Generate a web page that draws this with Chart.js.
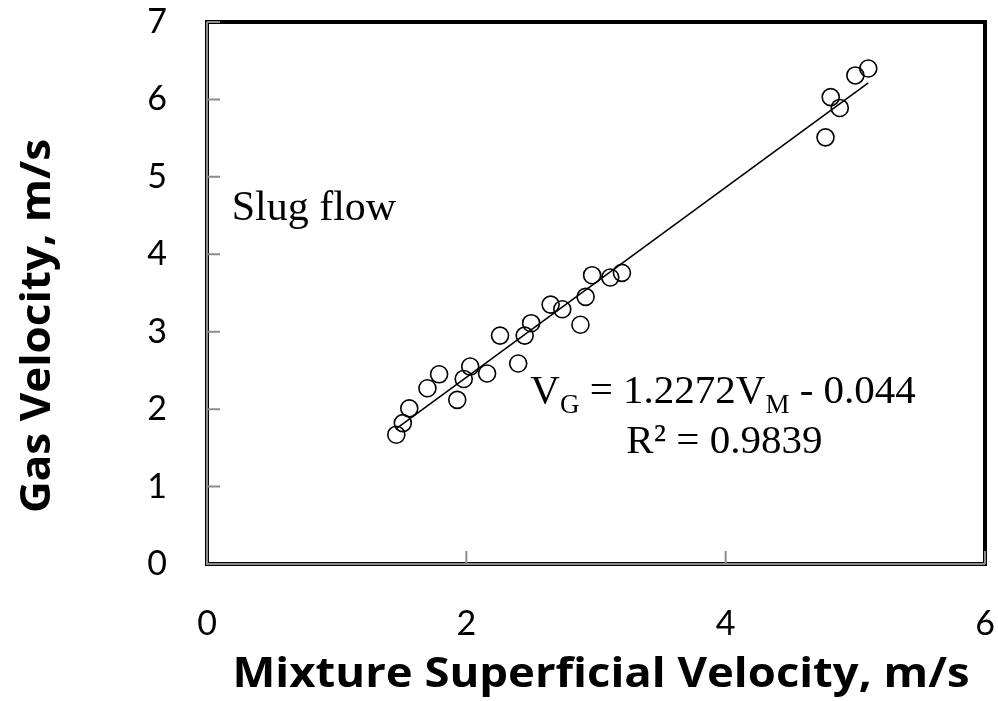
<!DOCTYPE html>
<html>
<head>
<meta charset="utf-8">
<script src="https://cdn.jsdelivr.net/npm/chart.js@4.4.1/dist/chart.umd.min.js"></script>
<style>
  body { margin: 0; background: #fff; }
  #wrap { width: 998px; height: 701px; }
</style>
</head>
<body>
<div id="wrap"><canvas id="velocityChart" width="998" height="701"></canvas></div>
<script>
// measured points
const mixtureVelocity = [1.46, 1.51, 1.56, 1.70, 1.79, 1.93, 1.98, 2.03, 2.16, 2.26,
  2.40, 2.45, 2.50, 2.65, 2.74, 2.88, 2.92, 2.97, 3.11, 3.20,
  4.77, 4.81, 4.88, 5.00, 5.10];
const gasVelocity = [1.67, 1.82, 2.01, 2.27, 2.45, 2.12, 2.39, 2.55, 2.46, 2.95,
  2.59, 2.95, 3.11, 3.35, 3.29, 3.09, 3.45, 3.73, 3.70, 3.76,
  5.51, 6.03, 5.89, 6.31, 6.40];

const xTicks = [0, 2, 4, 6];
const yTicks = [0, 1, 2, 3, 4, 5, 6, 7];

// linear fit shown on the chart
const fitSlope = 1.2272;
const fitIntercept = -0.044;
const fitR2 = "0.9839";

const tickFont = "Lato, 'Open Sans', sans-serif";
const titleFont = "'Open Sans', Lato, sans-serif";
const serif = "'Liberation Serif', 'Times New Roman', serif";

const points = mixtureVelocity.map((x, i) => ({ x, y: gasVelocity[i] }));
const xMin = Math.min(...mixtureVelocity);
const xMax = Math.max(...mixtureVelocity);
const fitLine = [xMin, xMax].map(x => ({ x, y: fitSlope * x + fitIntercept }));

// text squeezed horizontally to a target length (the original titles are Calibri)
function fitText(ctx, text, cx, cy, angle, length) {
  const w = ctx.measureText(text).width;
  ctx.save();
  ctx.translate(cx, cy);
  ctx.rotate(angle);
  ctx.scale(length / w, 1);
  ctx.textAlign = "center";
  ctx.fillText(text, 0, 0);
  ctx.restore();
}

// frame, inward ticks, axis titles, notes
const decorations = {
  id: "decorations",
  beforeDatasetsDraw(chart) {
    const { ctx, chartArea: a, scales } = chart;
    ctx.save();
    ctx.strokeStyle = "#000";
    ctx.lineWidth = 4;
    ctx.strokeRect(a.left, a.top, a.right - a.left, a.bottom - a.top);
    ctx.strokeStyle = "#8c8c8c";
    ctx.lineWidth = 2;
    ctx.beginPath();
    ctx.moveTo(a.left, a.top);
    ctx.lineTo(a.left, a.bottom);
    ctx.lineTo(a.right, a.bottom);
    ctx.stroke();
    // ticks point inward
    ctx.beginPath();
    xTicks.forEach(v => {
      const px = scales.x.getPixelForValue(v);
      ctx.moveTo(px, a.bottom);
      ctx.lineTo(px, a.bottom - 13);
    });
    yTicks.forEach(v => {
      const py = scales.y.getPixelForValue(v);
      ctx.moveTo(a.left, py);
      ctx.lineTo(a.left + 13, py);
    });
    ctx.stroke();
    ctx.restore();
  },
  afterDraw(chart) {
    const { ctx, chartArea: a, scales } = chart;
    const x = scales.x, y = scales.y;
    ctx.save();
    ctx.fillStyle = "#000";
    ctx.textBaseline = "alphabetic";

    // axis titles
    ctx.font = "bold 41px " + titleFont;
    fitText(ctx, "Mixture Superficial Velocity, m/s", 601, 687, 0, 737);
    fitText(ctx, "Gas Velocity, m/s", 50, 326, -Math.PI / 2, 374);

    // regime label
    ctx.font = "42px " + serif;
    ctx.textAlign = "left";
    ctx.fillText("Slug flow", x.getPixelForValue(0.19), y.getPixelForValue(4.44));

    // equation with subscripts
    const big = "41px " + serif, small = "27px " + serif;
    const parts = [
      ["V", big, 0], ["G", small, 10], [" = 1.2272V", big, 0], ["M", small, 10], [" - 0.044", big, 0]
    ];
    let total = 0;
    parts.forEach(p => { ctx.font = p[1]; total += ctx.measureText(p[0]).width; });
    let cx = x.getPixelForValue(3.98) - total / 2;
    const base = y.getPixelForValue(2.08);
    parts.forEach(p => {
      ctx.font = p[1];
      ctx.fillText(p[0], cx, base + p[2]);
      cx += ctx.measureText(p[0]).width;
    });
    ctx.font = big;
    ctx.textAlign = "center";
    ctx.fillText("R\u00b2 = " + fitR2, x.getPixelForValue(3.99), y.getPixelForValue(1.43));
    ctx.restore();
  }
};

function noOverflow(s) {
  s.paddingTop = 0;
  s.paddingBottom = 0;
  s.paddingLeft = 0;
  s.paddingRight = 0;
}

new Chart(document.getElementById("velocityChart"), {
  type: "scatter",
  data: {
    datasets: [
      {
        label: "Measured",
        data: points,
        pointStyle: "circle",
        pointRadius: 8.5,
        pointHoverRadius: 8.5,
        pointBorderWidth: 1.6,
        borderColor: "#000",
        backgroundColor: "rgba(0,0,0,0)"
      },
      {
        type: "line",
        label: "Linear fit",
        data: fitLine,
        borderColor: "#000",
        borderWidth: 1.6,
        pointRadius: 0,
        fill: false
      }
    ]
  },
  options: {
    responsive: false,
    animation: false,
    devicePixelRatio: 1,
    layout: { padding: { top: 22, right: 13, left: 0, bottom: 0 } },
    plugins: {
      legend: { display: false },
      tooltip: { enabled: false }
    },
    scales: {
      x: {
        type: "linear",
        min: 0,
        max: 6,
        afterBuildTicks: s => { s.ticks = xTicks.map(v => ({ value: v })); },
        afterFit: s => { s.height = 137; noOverflow(s); },
        grid: { display: false, drawTicks: false },
        border: { display: false },
        ticks: { color: "#000", font: { family: tickFont, size: 34 }, padding: 40 }
      },
      y: {
        type: "linear",
        min: 0,
        max: 7,
        afterBuildTicks: s => { s.ticks = yTicks.map(v => ({ value: v })); },
        afterFit: s => { s.width = 207; noOverflow(s); },
        grid: { display: false, drawTicks: false },
        border: { display: false },
        ticks: { color: "#000", font: { family: tickFont, size: 34 }, padding: 40 }
      }
    }
  },
  plugins: [decorations]
});
</script>
</body>
</html>
